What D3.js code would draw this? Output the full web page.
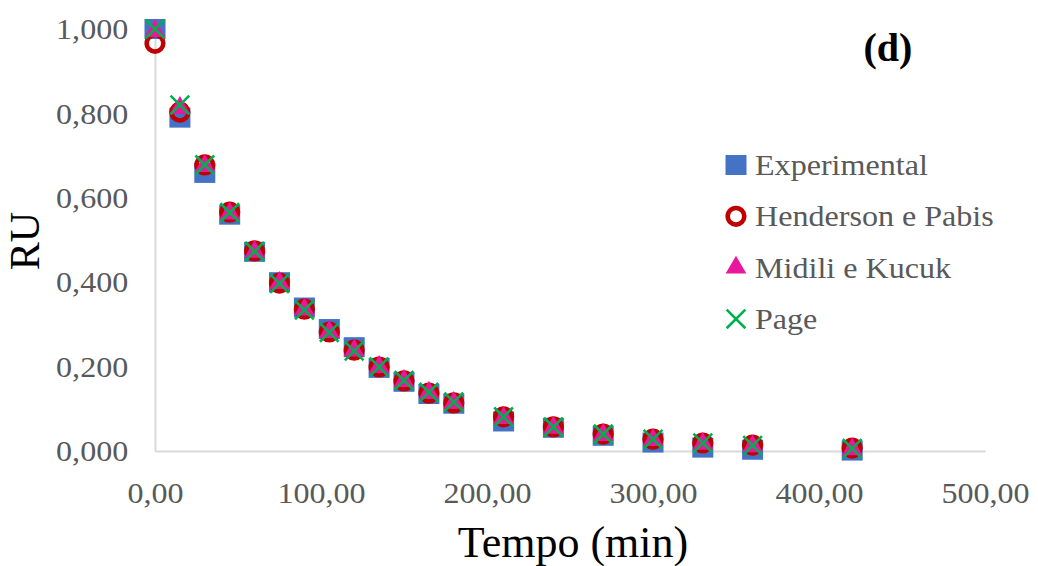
<!DOCTYPE html>
<html>
<head>
<meta charset="utf-8">
<script src="https://cdn.jsdelivr.net/npm/d3@7"></script>
<style>
  body { margin: 0; background: #fff; }
  svg { display: block; font-family: "Liberation Serif", "DejaVu Serif", serif; }
</style>
</head>
<body>
<div id="chart"></div>
<script>
// data
const tempo = [0, 15, 30, 45, 60, 75, 90, 105, 120, 135, 150, 165, 180, 210, 240, 270, 300, 330, 360, 420];
const experimental = [1.000, 0.790, 0.659, 0.560, 0.472, 0.400, 0.340, 0.289, 0.246, 0.197, 0.164, 0.135, 0.112, 0.070, 0.055, 0.036, 0.020, 0.008, 0.003, 0.001];
const henderson = [0.966, 0.803, 0.678, 0.566, 0.474, 0.398, 0.336, 0.282, 0.239, 0.199, 0.166, 0.137, 0.114, 0.081, 0.057, 0.040, 0.028, 0.019, 0.014, 0.007];
const midili = [0.995, 0.813, 0.675, 0.563, 0.472, 0.398, 0.335, 0.282, 0.238, 0.199, 0.166, 0.138, 0.114, 0.078, 0.055, 0.038, 0.026, 0.017, 0.011, 0.004];
const page = [1.000, 0.820, 0.678, 0.565, 0.473, 0.397, 0.334, 0.281, 0.237, 0.199, 0.167, 0.139, 0.116, 0.081, 0.057, 0.040, 0.028, 0.019, 0.013, 0.006];

const seriesNames = ["Experimental", "Henderson e Pabis", "Midili e Kucuk", "Page"];
const xTicks = [0, 100, 200, 300, 400, 500];
const yTicks = [0, 0.2, 0.4, 0.6, 0.8, 1.0];

const width = 1038;
const height = 566;
const margin = { top: 29, right: 53, bottom: 115, left: 155 };

const locale = d3.formatLocale({ decimal: ",", thousands: ".", grouping: [3], currency: ["", ""] });
const fmtX = locale.format(".2f");
const fmtY = locale.format(".3f");

const svg = d3.select("#chart").append("svg")
  .attr("width", width)
  .attr("height", height);

const x = d3.scaleLinear().domain([0, 500]).range([margin.left, width - margin.right]);
const y = d3.scaleLinear().domain([0, 1]).range([height - margin.bottom, margin.top]);

// axes (text in the source is a bit stretched horizontally)
const xAxis = svg.append("g")
  .attr("transform", `translate(0,${y(0)})`)
  .call(d3.axisBottom(x).tickValues(xTicks).tickSize(0).tickPadding(31).tickFormat(fmtX));
const yAxis = svg.append("g")
  .attr("transform", `translate(${x(0)},0)`)
  .call(d3.axisLeft(y).tickValues(yTicks).tickSize(0).tickPadding(25).tickFormat(fmtY));

[xAxis, yAxis].forEach((g) => {
  g.select(".domain").attr("stroke", "#d9d9d9").attr("stroke-width", 2);
  g.selectAll("text")
    .attr("fill", "#595959")
    .attr("transform", "scale(1.07,1)")
    .style("font-size", "30px")
    .style("font-family", "Liberation Serif, serif");
});

// axis titles
svg.append("text")
  .attr("x", (x(0) + x(500)) / 2 + 3)
  .attr("y", 557)
  .attr("text-anchor", "middle")
  .attr("fill", "#000")
  .style("font-size", "44px")
  .text("Tempo (min)");

svg.append("text")
  .attr("transform", `translate(39,${(y(0) + y(1)) / 2 + 1}) rotate(-90)`)
  .attr("text-anchor", "middle")
  .attr("fill", "#000")
  .style("font-size", "42px")
  .text("RU");

svg.append("text")
  .attr("x", 888)
  .attr("y", 61)
  .attr("text-anchor", "middle")
  .attr("fill", "#000")
  .style("font-size", "40px")
  .style("font-weight", "bold")
  .text("(d)");

// markers
const colors = ["#4472c4", "#c00000", "#e8179c", "#00b050"];
const points = (vals) => tempo.map((t, i) => ({ t, v: vals[i] }));

function drawMarker(sel, k) {
  if (k === 0) {
    sel.append("rect").attr("x", -10.5).attr("y", -10).attr("width", 21).attr("height", 20).attr("fill", colors[0]);
  } else if (k === 1) {
    sel.append("circle").attr("r", 8.3).attr("fill", "none").attr("stroke", colors[1]).attr("stroke-width", 4.6);
  } else if (k === 2) {
    sel.append("path").attr("d", d3.symbol(d3.symbolTriangle, 185)()).attr("fill", colors[2]);
  } else {
    sel.append("path").attr("d", d3.symbol(d3.symbolX, 230)()).attr("fill", "none")
      .attr("stroke", colors[3]).attr("stroke-width", 2.6);
  }
}

[experimental, henderson, midili, page].forEach((vals, k) => {
  svg.append("g").selectAll("g")
    .data(points(vals))
    .join("g")
    .attr("transform", (d) => `translate(${x(d.t)},${y(d.v)})`)
    .each(function () { drawMarker(d3.select(this), k); });
});

// legend
const legend = svg.append("g").attr("transform", "translate(736,165)");
seriesNames.forEach((name, k) => {
  const row = legend.append("g").attr("transform", `translate(0,${k * 51.3})`);
  drawMarker(row.append("g"), k);
  row.append("text")
    .attr("transform", "translate(19,10) scale(1.07,1)")
    .attr("fill", "#595959")
    .style("font-size", "30px")
    .text(name);
});
</script>
</body>
</html>
